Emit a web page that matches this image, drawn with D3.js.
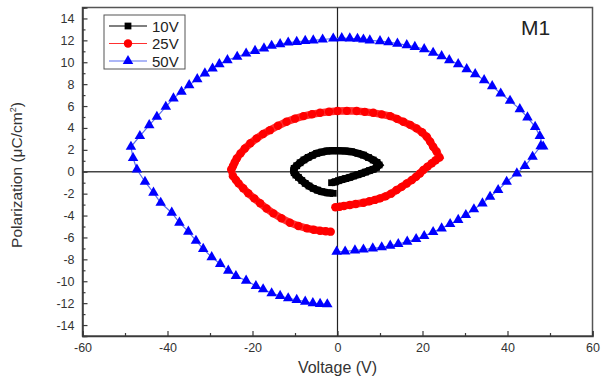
<!DOCTYPE html>
<html>
<head>
<meta charset="utf-8">
<script src="https://cdn.jsdelivr.net/npm/d3@7"></script>
<style>
  html, body { margin: 0; padding: 0; background: #fff; }
  svg { display: block; font-family: "Liberation Sans", Arial, sans-serif; }
</style>
</head>
<body>
<svg id="chart" width="601" height="383"></svg>
<script>
// P–E hysteresis loops of sample M1 at three drive voltages
const xTicks = [-60, -40, -20, 0, 20, 40, 60];
const yTicks = [-14, -12, -10, -8, -6, -4, -2, 0, 2, 4, 6, 8, 10, 12, 14];

// 10 V loop: [voltage (V), polarization (µC/cm²)]
const loop10V = [
  [-1.4,-1.0],[-0.5,-0.92],[0.2,-0.82],[1.0,-0.72],[1.9,-0.62],[2.9,-0.51],[3.8,-0.39],
  [4.8,-0.27],[5.7,-0.15],[6.6,-0.03],[7.5,0.1],[8.4,0.22],[9.2,0.4],[9.8,0.62],[9.3,0.85],
  [8.4,1.07],[7.3,1.3],[6.1,1.52],[4.8,1.68],[3.3,1.83],[1.8,1.9],[0.2,1.92],[-1.2,1.92],
  [-2.5,1.89],[-3.7,1.8],[-4.9,1.68],[-5.9,1.5],[-6.9,1.31],[-7.9,1.08],[-8.8,0.82],
  [-9.6,0.55],[-10.2,0.31],[-10.3,0.1],[-10.2,-0.09],[-9.8,-0.3],[-9.2,-0.51],[-8.4,-0.8],
  [-7.6,-1.06],[-6.7,-1.3],[-5.7,-1.52],[-4.7,-1.68],[-3.7,-1.82],[-2.4,-1.92],[-1.0,-1.97]
];

// 25 V loop
const loop25V = [
  [-0.5,-3.25],[0.5,-3.2],[1.5,-3.12],[2.9,-3.04],[4.3,-2.95],[6.1,-2.83],[7.5,-2.7],
  [8.8,-2.57],[10.0,-2.43],[11.3,-2.25],[12.6,-2.0],[13.9,-1.67],[15.1,-1.38],[16.3,-1.07],
  [17.5,-0.76],[18.5,-0.45],[19.4,-0.15],[20.2,0.16],[21.2,0.47],[22.2,0.77],[23.1,1.05],
  [24.0,1.31],[23.3,1.85],[22.5,2.28],[21.8,2.75],[21.0,3.19],[19.9,3.6],[18.6,3.96],
  [17.1,4.28],[15.5,4.56],[14.0,4.83],[12.4,5.08],[10.4,5.24],[8.4,5.38],[6.4,5.47],
  [4.5,5.54],[2.2,5.56],[0.0,5.55],[-2.0,5.48],[-4.1,5.38],[-6.0,5.25],[-8.0,5.08],
  [-10.0,4.85],[-12.0,4.56],[-14.0,4.2],[-15.9,3.8],[-17.5,3.45],[-19.0,3.05],[-20.5,2.6],
  [-21.8,2.13],[-22.8,1.68],[-23.7,1.22],[-24.2,0.85],[-24.6,0.5],[-25.0,0.2],[-24.6,-0.4],
  [-23.9,-0.75],[-23.3,-1.06],[-22.2,-1.5],[-21.0,-1.97],[-19.6,-2.43],[-18.2,-2.88],
  [-16.7,-3.35],[-15.1,-3.8],[-13.2,-4.25],[-11.2,-4.65],[-9.2,-4.95],[-7.2,-5.17],
  [-5.6,-5.3],[-4.1,-5.38],[-2.8,-5.43],[-1.6,-5.47]
];

// 50 V loop
const loop50V = [
  [-0.2,-7.3],[1.8,-7.28],[4.1,-7.18],[6.1,-7.1],[8.3,-7.0],[10.4,-6.9],[12.4,-6.75],
  [14.3,-6.6],[16.4,-6.38],[18.5,-6.14],[20.4,-5.87],[22.5,-5.5],[24.5,-5.17],[26.5,-4.77],
  [28.4,-4.4],[30.2,-3.95],[32.1,-3.43],[34.1,-2.89],[35.9,-2.28],[37.8,-1.67],[39.8,-0.91],
  [42.2,-0.15],[44.1,0.52],[45.9,1.37],[47.8,2.34],[48.4,2.3],[47.6,3.26],[46.5,4.1],
  [44.7,4.96],[42.9,5.72],[40.6,6.48],[38.4,7.15],[36.4,7.82],[34.5,8.37],[32.4,8.91],
  [30.4,9.37],[28.4,9.83],[26.3,10.19],[24.5,10.56],[22.5,10.86],[20.4,11.2],[18.2,11.4],
  [16.3,11.56],[14.1,11.7],[12.0,11.83],[10.0,11.93],[7.6,12.0],[6.1,12.08],[4.7,12.14],
  [2.9,12.18],[1.0,12.2],[-1.0,12.17],[-3.5,12.08],[-5.7,12.0],[-7.6,11.95],[-9.6,11.86],
  [-11.6,11.8],[-13.5,11.65],[-15.5,11.5],[-17.3,11.26],[-19.4,11.04],[-21.5,10.8],
  [-23.6,10.5],[-25.9,10.19],[-27.8,9.83],[-29.4,9.43],[-31.2,8.98],[-33.0,8.46],
  [-34.9,7.91],[-36.7,7.3],[-38.6,6.7],[-40.4,5.93],[-42.5,5.02],[-44.3,4.26],[-46.5,3.26],
  [-48.6,2.28],[-48.1,1.25],[-47.2,0.2],[-45.3,-0.91],[-43.3,-1.91],[-41.6,-2.83],
  [-39.0,-3.74],[-37.2,-4.65],[-35.1,-5.47],[-33.3,-6.3],[-31.6,-7.05],[-29.6,-7.8],
  [-27.6,-8.42],[-25.7,-9.03],[-23.9,-9.52],[-21.5,-9.94],[-19.2,-10.43],[-17.5,-10.73],
  [-15.5,-11.1],[-13.5,-11.34],[-11.6,-11.55],[-9.6,-11.7],[-7.6,-11.86],[-5.8,-12.0],
  [-4.1,-12.07],[-2.4,-12.1]
];

const seriesNames = ["10V", "25V", "50V"];

const series = [
  { name: seriesNames[0], data: loop10V, fill: "#000000", line: "#000000", symbol: d3.symbolSquare, size: 46 },
  { name: seriesNames[1], data: loop25V, fill: "#ff0000", line: "#ff3030", symbol: d3.symbolCircle, size: 56 },
  { name: seriesNames[2], data: loop50V, fill: "#0000ff", line: "#5a6ef0", symbol: d3.symbolTriangle, size: 48 }
];

const svg = d3.select("#chart");
const plotLeft = 82.5, plotRight = 592.5, plotTop = 7.5, plotBottom = 336;

const x = d3.scaleLinear().domain([-60, 60]).range([plotLeft, plotRight]);
const y = d3.scaleLinear().domain([-15, 15]).range([plotBottom, plotTop]);

const axisColor = "#3a3a3a";
const tickLabel = d => String(d);

// frame
svg.append("rect")
  .attr("x", plotLeft).attr("y", plotTop)
  .attr("width", plotRight - plotLeft).attr("height", plotBottom - plotTop)
  .attr("fill", "none").attr("stroke", "#555").attr("stroke-width", 1.5);

// zero cross-hairs
svg.append("line")
  .attr("x1", x(0)).attr("x2", x(0)).attr("y1", plotTop).attr("y2", plotBottom)
  .attr("stroke", "#222").attr("stroke-width", 1.2);
svg.append("line")
  .attr("x1", plotLeft).attr("x2", plotRight).attr("y1", y(0)).attr("y2", y(0))
  .attr("stroke", "#444").attr("stroke-width", 1.5);

// bottom axis with inward ticks
svg.append("g").attr("transform", `translate(0,${plotBottom})`)
  .call(d3.axisBottom(x).tickValues(xTicks).tickSize(-5).tickPadding(7).tickFormat(tickLabel));
svg.append("g").attr("transform", `translate(0,${plotBottom})`)
  .call(d3.axisBottom(x).tickValues(d3.range(-50, 60, 20)).tickSize(-3).tickFormat(""))
  .call(g => g.select(".domain").remove());

// left axis with inward ticks
svg.append("g").attr("transform", `translate(${plotLeft},0)`)
  .call(d3.axisLeft(y).tickValues(yTicks).tickSize(-5).tickPadding(8).tickFormat(tickLabel));
svg.append("g").attr("transform", `translate(${plotLeft},0)`)
  .call(d3.axisLeft(y).tickValues(d3.range(-15, 16, 2)).tickSize(-3).tickFormat(""))
  .call(g => g.select(".domain").remove());

svg.selectAll(".domain").attr("stroke", axisColor).attr("stroke-width", 1.5);
svg.selectAll(".tick line").attr("stroke", axisColor).attr("stroke-width", 1.2);
svg.selectAll(".tick text")
  .attr("fill", "#333").style("font-size", "12.5px")
  .style("font-family", "'Liberation Sans', Arial, sans-serif");

// axis titles
svg.append("text")
  .attr("x", x(0)).attr("y", 373)
  .attr("text-anchor", "middle").attr("fill", "#333")
  .style("font-size", "16px")
  .text("Voltage (V)");

const yTitle = svg.append("text")
  .attr("transform", `translate(22,175) rotate(-90)`)
  .attr("text-anchor", "middle").attr("fill", "#333")
  .style("font-size", "15.5px");
yTitle.append("tspan").text("Polarization (μC/cm");
yTitle.append("tspan").attr("dy", -6).style("font-size", "9px").text("2");
yTitle.append("tspan").attr("dy", 6).text(")");

// loops
const lineGen = d3.line().x(d => x(d[0])).y(d => y(d[1]));
const plot = svg.append("g");

series.forEach(s => {
  plot.append("path")
    .datum(s.data)
    .attr("d", lineGen)
    .attr("fill", "none")
    .attr("stroke", s.line)
    .attr("stroke-width", s.name === "50V" ? 1.2 : 7.5);
  plot.append("g").selectAll("path")
    .data(s.data)
    .join("path")
    .attr("transform", d => `translate(${x(d[0])},${y(d[1])})`)
    .attr("d", d3.symbol().type(s.symbol).size(s.size))
    .attr("fill", s.fill);
});

// legend
const legend = svg.append("g");
legend.append("rect")
  .attr("x", 104).attr("y", 15).attr("width", 81).attr("height", 54)
  .attr("fill", "#fff").attr("stroke", "#555").attr("stroke-width", 1);

series.forEach((s, i) => {
  const cy = 26 + i * 17.5;
  legend.append("line")
    .attr("x1", 109).attr("x2", 147).attr("y1", cy).attr("y2", cy)
    .attr("stroke", s.line).attr("stroke-width", 1.2);
  legend.append("path")
    .attr("transform", `translate(128,${cy})`)
    .attr("d", d3.symbol().type(s.symbol).size(s.size))
    .attr("fill", s.fill);
  legend.append("text")
    .attr("x", 152).attr("y", cy + 5.5)
    .attr("fill", "#222").style("font-size", "15px")
    .text(s.name);
});

// sample label
svg.append("text")
  .attr("x", 521).attr("y", 35)
  .attr("fill", "#222").style("font-size", "21px")
  .text("M1");
</script>
</body>
</html>
